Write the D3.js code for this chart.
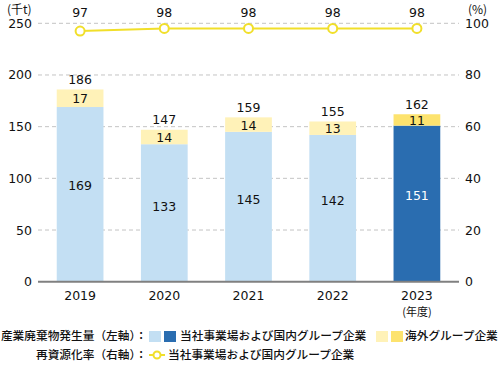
<!DOCTYPE html>
<html>
<head>
<meta charset="utf-8">
<script src="https://cdn.jsdelivr.net/npm/d3@7"></script>
<style>
  body { margin: 0; background: #fff; }
  text { font-family: "Noto Sans CJK JP", "Noto Sans", sans-serif; fill: #111; }
  .num { font-family: "DejaVu Sans", sans-serif; font-size: 12.5px; }
</style>
</head>
<body>
<svg width="501" height="365"></svg>
<script>
// data
const years = ["2019", "2020", "2021", "2022", "2023"];
const domestic = [169, 133, 145, 142, 151];
const overseas = [17, 14, 14, 13, 11];
const totals = [186, 147, 159, 155, 162];
const recycleRate = [97, 98, 98, 98, 98];
const leftTicks = [0, 50, 100, 150, 200, 250];
const rightTicks = [0, 20, 40, 60, 80, 100];

const svg = d3.select("svg");
const plotLeft = 38, plotRight = 459, plotTop = 23.3, plotBottom = 281.7;

const x = d3.scaleBand().domain(years).range([plotLeft, plotRight])
    .paddingInner(0.445).paddingOuter(0.2225);
const yL = d3.scaleLinear().domain([0, 250]).range([plotBottom, plotTop]);
const yR = d3.scaleLinear().domain([0, 100]).range([plotBottom, plotTop]);

// grid
svg.append("g").selectAll("line")
    .data(leftTicks.slice(1))
    .join("line")
    .attr("x1", plotLeft).attr("x2", plotRight)
    .attr("y1", d => yL(d)).attr("y2", d => yL(d))
    .attr("stroke", "#c4c4c4").attr("stroke-dasharray", "4,3");

// left axis labels
svg.append("g").selectAll("text")
    .data(leftTicks)
    .join("text")
    .attr("class", "num")
    .attr("x", 32).attr("y", d => yL(d))
    .attr("dy", "0.36em").attr("text-anchor", "end")
    .text(d => d);

// right axis labels
svg.append("g").selectAll("text")
    .data(rightTicks)
    .join("text")
    .attr("class", "num")
    .attr("x", 465).attr("y", d => yR(d))
    .attr("dy", "0.36em").attr("text-anchor", "start")
    .text(d => d);

svg.append("text").attr("x", 7).attr("y", 10).attr("dy", "0.35em")
    .attr("font-size", 12).text("(千t)");
svg.append("text").attr("x", 468).attr("y", 10).attr("dy", "0.35em")
    .attr("font-size", 12).text("(%)");

// bars
const last = years.length - 1;
const bw = x.bandwidth();
const bars = svg.append("g");
bars.selectAll("rect.dom")
    .data(years)
    .join("rect")
    .attr("class", "dom")
    .attr("x", d => x(d)).attr("width", bw)
    .attr("y", (d, i) => yL(domestic[i]))
    .attr("height", (d, i) => yL(0) - yL(domestic[i]))
    .attr("fill", (d, i) => i === last ? "#2a6db0" : "#c3dff3");
bars.selectAll("rect.ovs")
    .data(years)
    .join("rect")
    .attr("class", "ovs")
    .attr("x", d => x(d)).attr("width", bw)
    .attr("y", (d, i) => yL(domestic[i] + overseas[i]))
    .attr("height", (d, i) => yL(domestic[i]) - yL(domestic[i] + overseas[i]))
    .attr("fill", (d, i) => i === last ? "#fde36e" : "#fff2b8");

// baseline
svg.append("line")
    .attr("x1", plotLeft).attr("x2", plotRight)
    .attr("y1", yL(0)).attr("y2", yL(0))
    .attr("stroke", "#808080").attr("stroke-width", 2);

// bar labels
const labels = svg.append("g").attr("text-anchor", "middle");
years.forEach((yr, i) => {
    const cx = x(yr) + bw / 2;
    const dTop = yL(domestic[i]);
    labels.append("text").attr("class", "num")
        .attr("x", cx).attr("y", dTop + (yL(0) - dTop) * 0.45)
        .attr("dy", "0.36em")
        .style("fill", i === last ? "#fff" : "#111")
        .text(domestic[i]);
    labels.append("text").attr("class", "num")
        .attr("x", cx).attr("y", (dTop + yL(domestic[i] + overseas[i])) / 2 + 0.5)
        .attr("dy", "0.36em")
        .text(overseas[i]);
    labels.append("text").attr("class", "num")
        .attr("x", cx).attr("y", yL(totals[i]) - 10)
        .attr("dy", "0.36em")
        .text(totals[i]);
    // x labels
    labels.append("text").attr("class", "num")
        .attr("x", cx).attr("y", 295.5).attr("dy", "0.36em")
        .text(yr);
    // rate value at top
    labels.append("text").attr("class", "num")
        .attr("x", cx).attr("y", 12).attr("dy", "0.36em")
        .text(recycleRate[i]);
});
svg.append("text").attr("x", x(years[last]) + bw / 2).attr("y", 312)
    .attr("dy", "0.35em").attr("text-anchor", "middle")
    .attr("font-size", 11).text("(年度)");

// recycle rate line
const line = d3.line()
    .x((d, i) => x(years[i]) + bw / 2)
    .y(d => yR(d));
svg.append("path").datum(recycleRate)
    .attr("d", line).attr("fill", "none")
    .attr("stroke", "#f1df2a").attr("stroke-width", 2);
svg.append("g").selectAll("circle")
    .data(recycleRate)
    .join("circle")
    .attr("cx", (d, i) => x(years[i]) + bw / 2)
    .attr("cy", d => yR(d))
    .attr("r", 4.5)
    .attr("fill", "#fff").attr("stroke", "#f1df2a").attr("stroke-width", 2);

// legend
const lg = svg.append("g").attr("font-size", 11.7).attr("font-weight", 500);
lg.append("text").attr("x", 147).attr("y", 336).attr("dy", "0.35em")
    .attr("text-anchor", "end").text("産業廃棄物発生量（左軸）：");
lg.append("rect").attr("x", 149).attr("y", 331).attr("width", 12).attr("height", 11).attr("fill", "#c3dff3");
lg.append("rect").attr("x", 164).attr("y", 331).attr("width", 12).attr("height", 11).attr("fill", "#2a6db0");
lg.append("text").attr("x", 180).attr("y", 336).attr("dy", "0.35em").text("当社事業場および国内グループ企業");
lg.append("rect").attr("x", 376).attr("y", 331).attr("width", 12).attr("height", 11).attr("fill", "#fff2b8");
lg.append("rect").attr("x", 391).attr("y", 331).attr("width", 12).attr("height", 11).attr("fill", "#fde36e");
lg.append("text").attr("x", 405).attr("y", 336).attr("dy", "0.35em").text("海外グループ企業");

lg.append("text").attr("x", 147).attr("y", 355).attr("dy", "0.35em")
    .attr("text-anchor", "end").text("再資源化率（右軸）：");
lg.append("line").attr("x1", 149).attr("x2", 165).attr("y1", 355).attr("y2", 355)
    .attr("stroke", "#f1df2a").attr("stroke-width", 2);
lg.append("circle").attr("cx", 157).attr("cy", 355).attr("r", 3.5)
    .attr("fill", "#fff").attr("stroke", "#f1df2a").attr("stroke-width", 2);
lg.append("text").attr("x", 168).attr("y", 355).attr("dy", "0.35em").text("当社事業場および国内グループ企業");
</script>
</body>
</html>
